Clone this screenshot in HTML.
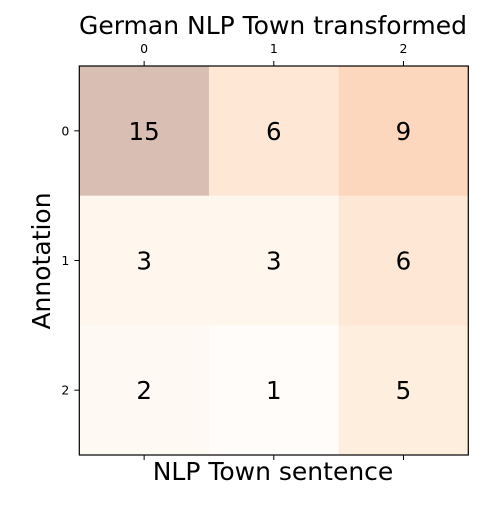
<!DOCTYPE html>
<html><head><meta charset="utf-8"><style>
body{margin:0;background:#fff}
svg text{font-family:"DejaVu Sans","Liberation Sans",sans-serif}
</style></head><body>
<svg id="c" width="500" height="500" viewBox="0 0 500 500"></svg>
<script>
const xCategories=["0","1","2"];
const yCategories=["0","1","2"];
const row0=[15,6,9];
const row1=[3,3,6];
const row2=[2,1,5];
const values=[row0,row1,row2];
const svg=document.getElementById('c');
const NS='http://www.w3.org/2000/svg';
const L=79.3,T=66,W=389,H=389;
const cw=W/xCategories.length, ch=H/yCategories.length;
const xPos=i=>L+cw*(i+0.5), yPos=j=>T+ch*(j+0.5);
const stops=["#fff5eb","#fee6ce","#fdd0a2","#fdae6b","#fd8d3c","#f16913","#d94801","#a63603","#7f2704"].map(h=>[1,3,5].map(k=>parseInt(h.substr(k,2),16)));
const flat=values.flat(), mn=Math.min(...flat), mx=Math.max(...flat);
function color(v){let t=(v-mn)/(mx-mn||1)*(stops.length-1);let i=Math.min(Math.floor(t),stops.length-2),f=t-i;
 const c=stops[i].map((a,k)=>a+(stops[i+1][k]-a)*f).map(a=>Math.round(255*0.7+a*0.3));return `rgb(${c})`;}
function mk(tag,attrs,txt){const e=document.createElementNS(NS,tag);for(const k in attrs)e.setAttribute(k,attrs[k]);if(txt!==undefined)e.textContent=txt;svg.appendChild(e);return e;}
values.forEach((row,j)=>row.forEach((v,i)=>{
 const r=mk('rect',{x:L+cw*i,y:T+ch*j,width:cw+0.5,height:ch+0.5,fill:color(v)});
 
 
 const t=mk('text',{x:xPos(i),y:yPos(j)+9,'text-anchor':'middle','font-size':24.5,fill:'#000'},String(v));
 
 
}));
const fr=mk('rect',{x:L,y:T,width:W,height:H,fill:'none',stroke:'#000','stroke-width':1.2});


xCategories.forEach((c,i)=>{
 mk('line',{x1:xPos(i),x2:xPos(i),y1:T,y2:T-5,stroke:'#000'});
 mk('line',{x1:xPos(i),x2:xPos(i),y1:T+H,y2:T+H+5,stroke:'#000'});
 const t=mk('text',{x:xPos(i),y:T-13,'text-anchor':'middle','font-size':12.5},c);
 
 
});
yCategories.forEach((c,j)=>{
 mk('line',{x1:L,x2:L-5,y1:yPos(j),y2:yPos(j),stroke:'#000'});
 const t=mk('text',{x:L-10,y:yPos(j)+4.5,'text-anchor':'end','font-size':12.5},c);
 
 
});
const ti=mk('text',{x:273,y:34,'text-anchor':'middle','font-size':25},'German NLP Town transformed');


const xl=mk('text',{x:273,y:480,'text-anchor':'middle','font-size':25},'NLP Town sentence');


const yl=mk('text',{x:0,y:0,'text-anchor':'middle','font-size':25,transform:'translate(50,261) rotate(-90)'},'Annotation');


</script>
</body></html>
